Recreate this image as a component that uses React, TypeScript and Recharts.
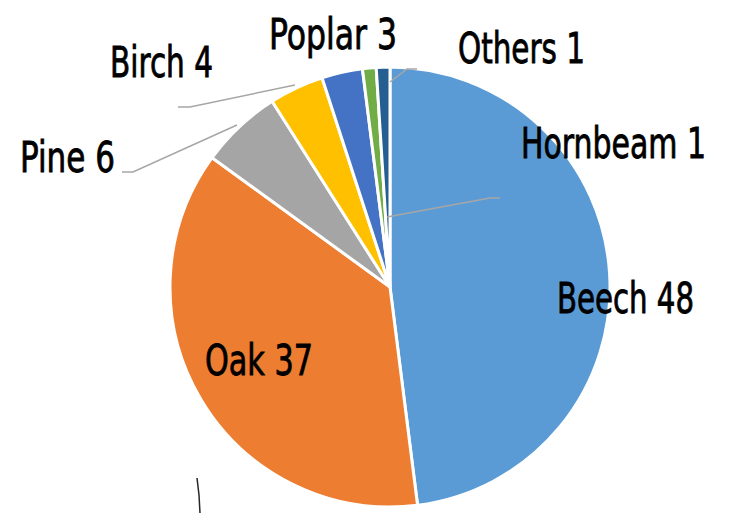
import { PieChart, Pie, Cell } from "recharts"

// tree species share
const species = ["Beech", "Oak", "Pine", "Birch", "Poplar", "Hornbeam", "Others"]
const shares = [48, 37, 6, 4, 3, 1, 1]
const colors = ["#5B9BD5", "#ED7D31", "#A5A5A5", "#FFC000", "#4472C4", "#70AD47", "#255E91"]

const data = species.map((name, i) => ({ name, value: shares[i] }))

// label placement relative to pie centre (dx, dy = text start / baseline), width of text,
// optional leader line points (relative to centre)
const labelLayout: Record<string, { dx: number; dy: number; w: number; line?: number[][]; lineColor?: string }> = {
  Beech: { dx: 167, dy: 26, w: 137 },
  Oak: { dx: -185, dy: 88, w: 108, line: [[-193, 191], [-191, 208], [-190, 226]], lineColor: "#262626" },
  Pine: { dx: -370, dy: -115, w: 95, line: [[-268, -115], [-257, -115], [-153, -162]] },
  Birch: { dx: -280, dy: -210, w: 103, line: [[-212, -180], [-200, -180], [-95, -202]] },
  Poplar: { dx: -121, dy: -238, w: 128 },
  Hornbeam: { dx: 131, dy: -129, w: 185, line: [[-3, -70], [100, -89], [110, -89]] },
  Others: { dx: 68, dy: -224, w: 127, line: [[0, -205], [17, -218], [27, -218]] }
}

const renderLabel = ({ cx, cy, name, value }: any) => {
  const l = labelLayout[name]
  if (!l) return null
  const pts = l.line ? l.line.map(p => `${cx + p[0]},${cy + p[1]}`).join(" ") : null
  return (
    <g>
      {pts && (
        <polyline points={pts} fill="none" stroke={l.lineColor || "#A6A6A6"} strokeWidth={1.5} />
      )}
      <text
        x={cx + l.dx}
        y={cy + l.dy}
        fill="#000"
        stroke="#000"
        strokeWidth={0.8}
        fontSize={42}
        fontFamily="'Liberation Sans Narrow', 'DejaVu Sans Condensed', sans-serif"
        textLength={l.w}
        lengthAdjust="spacingAndGlyphs"
      >
        {`${name} ${value}`}
      </text>
    </g>
  )
}

export default function App() {
  return (
    <div style={{ position: "fixed", top: 0, left: 0, width: 730, height: 513, background: "#fff" }}>
      <PieChart width={730} height={513} margin={{ top: 0, right: 0, bottom: 0, left: 0 }}>
        <Pie
          data={data}
          dataKey="value"
          cx={390}
          cy={287}
          outerRadius={220}
          startAngle={90}
          endAngle={-270}
          stroke="#fff"
          strokeWidth={3}
          label={renderLabel}
          labelLine={false}
          isAnimationActive={false}
        >
          {data.map((entry, i) => (
            <Cell key={`cell-${entry.name}`} fill={colors[i]} />
          ))}
        </Pie>
      </PieChart>
    </div>
  )
}
